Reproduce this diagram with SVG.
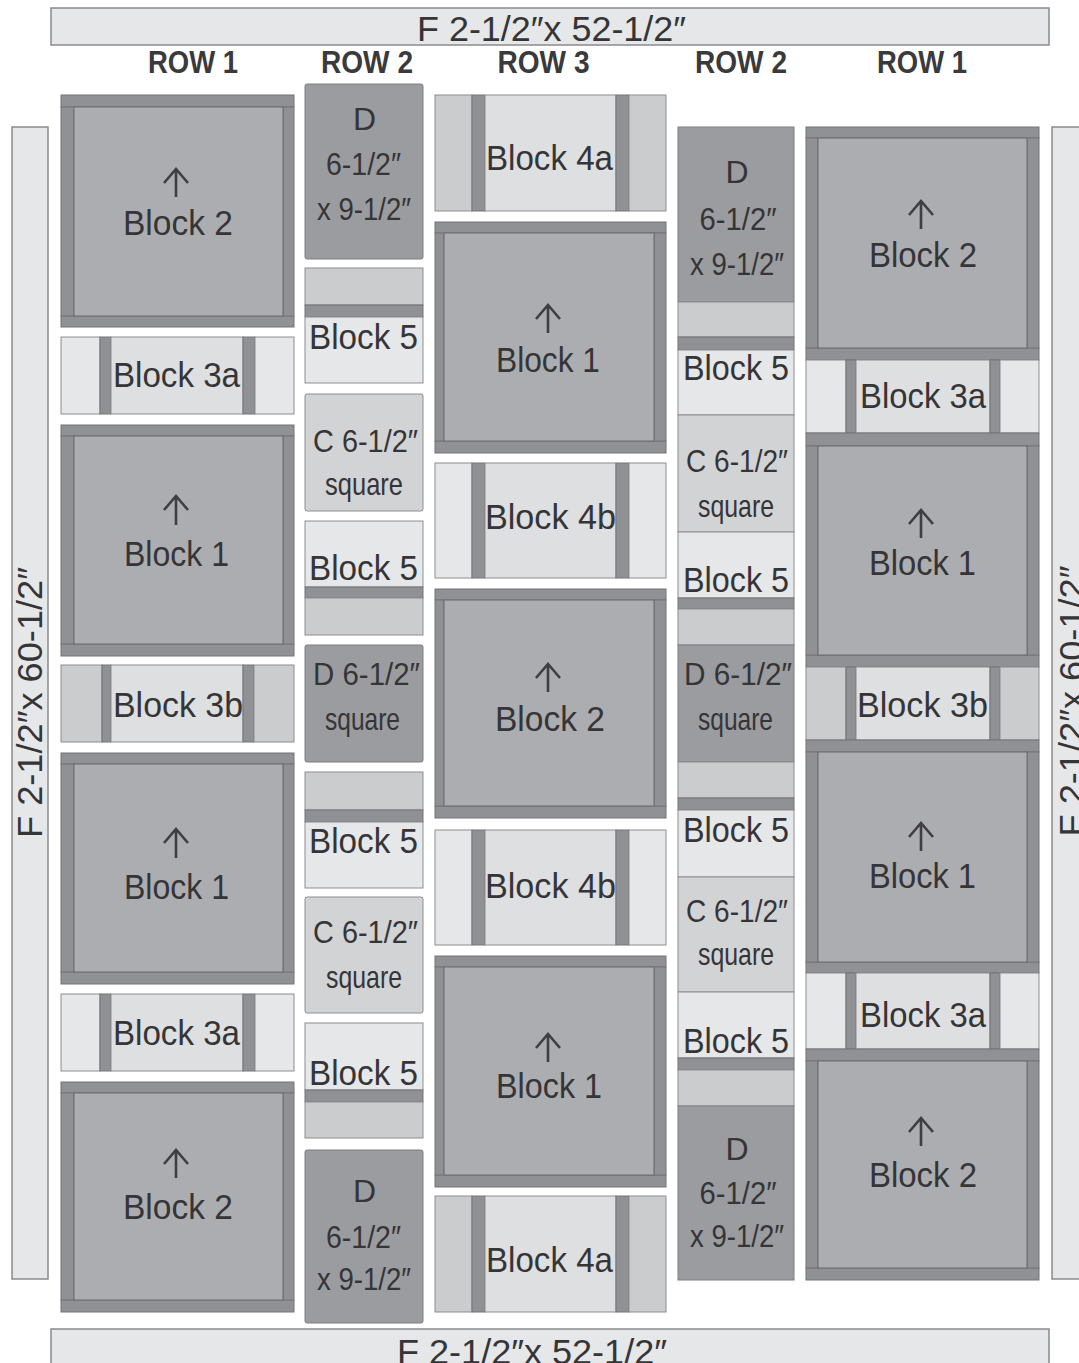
<svg xmlns="http://www.w3.org/2000/svg" width="1079" height="1363" viewBox="0 0 1079 1363">
<style>
.bd{fill:#e6e7e8;stroke:#8a8b8e;stroke-width:1.5}
.lt{fill:#e6e7e8;stroke:#8d8e91;stroke-width:1}
.lc{fill:#dedfe1;stroke:#8d8e91;stroke-width:1}
.md{fill:#cbccce;stroke:#8d8e91;stroke-width:1}
.cs{fill:#d2d3d5;stroke:#8d8e91;stroke-width:1}
.dk{fill:#9b9c9f;stroke:#7d7e81;stroke-width:1}
.st{fill:#909194;stroke:#747578;stroke-width:1}
.in{fill:#acadb0;stroke:#6a6b6e;stroke-width:1}
.t{font-family:"Liberation Sans",Arial,sans-serif;fill:#353537;font-size:35px;text-anchor:middle}
.s{font-family:"Liberation Sans",Arial,sans-serif;fill:#353537;font-size:32px;text-anchor:middle}
.r{font-family:"Liberation Sans",Arial,sans-serif;fill:#3a3a3c;font-size:32px;font-weight:bold;text-anchor:middle}
.ar{fill:none;stroke:#3f3f42;stroke-width:2.6}
</style>
<rect width="1079" height="1363" fill="#ffffff"/>

<g id="borders">
<rect class="bd" x="51" y="8" width="998" height="37"/>
<rect class="bd" x="51" y="1329" width="998" height="40"/>
<rect class="bd" x="12" y="127" width="36" height="1152"/>
<rect class="bd" x="1052" y="127" width="36" height="1152"/>
<text class="t" x="551.5" y="41" textLength="269" lengthAdjust="spacingAndGlyphs">F 2-1/2″x 52-1/2″</text>
<text class="t" x="532" y="1364" textLength="270" lengthAdjust="spacingAndGlyphs">F 2-1/2″x 52-1/2″</text>
<text class="t" x="42" y="702.5" transform="rotate(-90 42 702.5)" textLength="271" lengthAdjust="spacingAndGlyphs">F 2-1/2″x 60-1/2″</text>
<text class="t" x="1084" y="701" transform="rotate(-90 1084 701)" textLength="271" lengthAdjust="spacingAndGlyphs">F 2-1/2″x 60-1/2″</text>
</g>

<g id="row-labels">
<text class="r" x="193" y="73" textLength="90" lengthAdjust="spacingAndGlyphs">ROW 1</text>
<text class="r" x="367" y="73" textLength="92" lengthAdjust="spacingAndGlyphs">ROW 2</text>
<text class="r" x="543.5" y="73" textLength="92" lengthAdjust="spacingAndGlyphs">ROW 3</text>
<text class="r" x="741" y="73" textLength="92" lengthAdjust="spacingAndGlyphs">ROW 2</text>
<text class="r" x="922" y="73" textLength="90" lengthAdjust="spacingAndGlyphs">ROW 1</text>
</g>

<!-- Column 1 (ROW 1 left) -->
<g id="c1-block2-top">
<rect class="st" x="61" y="95" width="233" height="12"/>
<rect class="st" x="61" y="316" width="233" height="11"/>
<rect class="st" x="61" y="107" width="13" height="209"/>
<rect class="st" x="283" y="107" width="11" height="209"/>
<rect class="in" x="74" y="107" width="209" height="209"/>
<path class="ar" d="M176 197V169M164 183L176 169L188 183"/>
<text class="t" x="178" y="235" textLength="110" lengthAdjust="spacingAndGlyphs">Block 2</text>
</g>
<g id="c1-block3a-1">
<rect class="lt" x="61" y="337" width="39" height="77"/>
<rect class="st" x="100" y="337" width="11" height="77"/>
<rect class="lc" x="111" y="337" width="132" height="77"/>
<rect class="st" x="243" y="337" width="12" height="77"/>
<rect class="lt" x="255" y="337" width="39" height="77"/>
<text class="t" x="176.5" y="387" textLength="127" lengthAdjust="spacingAndGlyphs">Block 3a</text>
</g>
<g id="c1-block1-1">
<rect class="st" x="61" y="425" width="233" height="11"/>
<rect class="st" x="61" y="644" width="233" height="12"/>
<rect class="st" x="61" y="436" width="13" height="208"/>
<rect class="st" x="283" y="436" width="11" height="208"/>
<rect class="in" x="74" y="436" width="209" height="208"/>
<path class="ar" d="M176 525V496M164 510L176 496L188 510"/>
<text class="t" x="176.5" y="566" textLength="105" lengthAdjust="spacingAndGlyphs">Block 1</text>
</g>
<g id="c1-block3b">
<rect class="md" x="61" y="665" width="41" height="77"/>
<rect class="st" x="102" y="665" width="9" height="77"/>
<rect class="lc" x="111" y="665" width="132" height="77"/>
<rect class="st" x="243" y="665" width="11" height="77"/>
<rect class="md" x="254" y="665" width="40" height="77"/>
<text class="t" x="178" y="717" textLength="130" lengthAdjust="spacingAndGlyphs">Block 3b</text>
</g>
<g id="c1-block1-2">
<rect class="st" x="61" y="753" width="233" height="11"/>
<rect class="st" x="61" y="972" width="233" height="12"/>
<rect class="st" x="61" y="764" width="13" height="208"/>
<rect class="st" x="283" y="764" width="11" height="208"/>
<rect class="in" x="74" y="764" width="209" height="208"/>
<path class="ar" d="M176 858V829M164 843L176 829L188 843"/>
<text class="t" x="176.5" y="899" textLength="105" lengthAdjust="spacingAndGlyphs">Block 1</text>
</g>
<g id="c1-block3a-2">
<rect class="lt" x="61" y="994" width="39" height="77"/>
<rect class="st" x="100" y="994" width="11" height="77"/>
<rect class="lc" x="111" y="994" width="132" height="77"/>
<rect class="st" x="243" y="994" width="12" height="77"/>
<rect class="lt" x="255" y="994" width="39" height="77"/>
<text class="t" x="176.5" y="1045" textLength="127" lengthAdjust="spacingAndGlyphs">Block 3a</text>
</g>
<g id="c1-block2-bottom">
<rect class="st" x="61" y="1082" width="233" height="11"/>
<rect class="st" x="61" y="1300" width="233" height="12"/>
<rect class="st" x="61" y="1093" width="13" height="207"/>
<rect class="st" x="283" y="1093" width="11" height="207"/>
<rect class="in" x="74" y="1093" width="209" height="207"/>
<path class="ar" d="M176 1178V1150M164 1164L176 1150L188 1164"/>
<text class="t" x="178" y="1219" textLength="110" lengthAdjust="spacingAndGlyphs">Block 2</text>
</g>

<!-- Column 2 (ROW 2 left) -->
<g id="c2-D-top">
<rect class="dk" x="305" y="84" width="118" height="175" rx="2"/>
<text class="s" x="364.5" y="130">D</text>
<text class="s" x="363.5" y="175" textLength="75" lengthAdjust="spacingAndGlyphs">6-1/2″</text>
<text class="s" x="364" y="220" textLength="94" lengthAdjust="spacingAndGlyphs">x 9-1/2″</text>
</g>
<g id="c2-block5-1">
<rect class="md" x="305" y="268" width="118" height="37"/>
<rect class="st" x="305" y="305" width="118" height="12"/>
<rect class="lt" x="305" y="317" width="118" height="66"/>
<text class="t" x="363.5" y="349" textLength="109" lengthAdjust="spacingAndGlyphs">Block 5</text>
</g>
<g id="c2-C-1">
<rect class="cs" x="305" y="394" width="118" height="117" rx="2"/>
<text class="s" x="365.5" y="452" textLength="105" lengthAdjust="spacingAndGlyphs">C 6-1/2″</text>
<text class="s" x="364" y="495" textLength="78" lengthAdjust="spacingAndGlyphs">square</text>
</g>
<g id="c2-block5-2">
<rect class="lt" x="305" y="521" width="118" height="66"/>
<rect class="st" x="305" y="587" width="118" height="11"/>
<rect class="md" x="305" y="598" width="118" height="37"/>
<text class="t" x="363.5" y="580" textLength="109" lengthAdjust="spacingAndGlyphs">Block 5</text>
</g>
<g id="c2-D-square">
<rect class="dk" x="305" y="645" width="118" height="117" rx="2"/>
<text class="s" x="366.5" y="685" textLength="107" lengthAdjust="spacingAndGlyphs">D 6-1/2″</text>
<text class="s" x="362.5" y="730" textLength="75" lengthAdjust="spacingAndGlyphs">square</text>
</g>
<g id="c2-block5-3">
<rect class="md" x="305" y="772" width="118" height="38"/>
<rect class="st" x="305" y="810" width="118" height="12"/>
<rect class="lt" x="305" y="822" width="118" height="66"/>
<text class="t" x="363.5" y="853" textLength="109" lengthAdjust="spacingAndGlyphs">Block 5</text>
</g>
<g id="c2-C-2">
<rect class="cs" x="305" y="897" width="118" height="116" rx="2"/>
<text class="s" x="365.5" y="943" textLength="105" lengthAdjust="spacingAndGlyphs">C 6-1/2″</text>
<text class="s" x="364" y="988" textLength="76" lengthAdjust="spacingAndGlyphs">square</text>
</g>
<g id="c2-block5-4">
<rect class="lt" x="305" y="1023" width="118" height="67"/>
<rect class="st" x="305" y="1090" width="118" height="12"/>
<rect class="md" x="305" y="1102" width="118" height="36"/>
<text class="t" x="363.5" y="1085" textLength="109" lengthAdjust="spacingAndGlyphs">Block 5</text>
</g>
<g id="c2-D-bottom">
<rect class="dk" x="305" y="1150" width="118" height="173" rx="2"/>
<text class="s" x="364.5" y="1202">D</text>
<text class="s" x="363.5" y="1248" textLength="75" lengthAdjust="spacingAndGlyphs">6-1/2″</text>
<text class="s" x="364" y="1290" textLength="94" lengthAdjust="spacingAndGlyphs">x 9-1/2″</text>
</g>

<!-- Column 3 (ROW 3) -->
<g id="c3-block4a-top">
<rect class="md" x="435" y="95" width="37" height="116"/>
<rect class="st" x="472" y="95" width="13" height="116"/>
<rect class="lc" x="485" y="95" width="131" height="116"/>
<rect class="st" x="616" y="95" width="13" height="116"/>
<rect class="md" x="629" y="95" width="37" height="116"/>
<text class="t" x="549.5" y="170" textLength="127" lengthAdjust="spacingAndGlyphs">Block 4a</text>
</g>
<g id="c3-block1-1">
<rect class="st" x="435" y="222" width="231" height="11"/>
<rect class="st" x="435" y="441" width="231" height="12"/>
<rect class="st" x="435" y="233" width="9" height="208"/>
<rect class="st" x="654" y="233" width="12" height="208"/>
<rect class="in" x="444" y="233" width="210" height="208"/>
<path class="ar" d="M548 333V305M536 319L548 305L560 319"/>
<text class="t" x="548" y="372" textLength="104" lengthAdjust="spacingAndGlyphs">Block 1</text>
</g>
<g id="c3-block4b-1">
<rect class="lt" x="435" y="463" width="37" height="115"/>
<rect class="st" x="472" y="463" width="13" height="115"/>
<rect class="lc" x="485" y="463" width="131" height="115"/>
<rect class="st" x="616" y="463" width="13" height="115"/>
<rect class="lt" x="629" y="463" width="37" height="115"/>
<text class="t" x="550.5" y="529" textLength="131" lengthAdjust="spacingAndGlyphs">Block 4b</text>
</g>
<g id="c3-block2">
<rect class="st" x="435" y="589" width="231" height="11"/>
<rect class="st" x="435" y="806" width="231" height="12"/>
<rect class="st" x="435" y="600" width="9" height="206"/>
<rect class="st" x="654" y="600" width="12" height="206"/>
<rect class="in" x="444" y="600" width="210" height="206"/>
<path class="ar" d="M548 692V664M536 678L548 664L560 678"/>
<text class="t" x="550" y="731" textLength="110" lengthAdjust="spacingAndGlyphs">Block 2</text>
</g>
<g id="c3-block4b-2">
<rect class="lt" x="435" y="830" width="37" height="115"/>
<rect class="st" x="472" y="830" width="13" height="115"/>
<rect class="lc" x="485" y="830" width="131" height="115"/>
<rect class="st" x="616" y="830" width="13" height="115"/>
<rect class="lt" x="629" y="830" width="37" height="115"/>
<text class="t" x="550.5" y="898" textLength="131" lengthAdjust="spacingAndGlyphs">Block 4b</text>
</g>
<g id="c3-block1-2">
<rect class="st" x="435" y="956" width="231" height="11"/>
<rect class="st" x="435" y="1175" width="231" height="12"/>
<rect class="st" x="435" y="967" width="9" height="208"/>
<rect class="st" x="654" y="967" width="12" height="208"/>
<rect class="in" x="444" y="967" width="210" height="208"/>
<path class="ar" d="M548 1062V1034M536 1048L548 1034L560 1048"/>
<text class="t" x="549" y="1098" textLength="106" lengthAdjust="spacingAndGlyphs">Block 1</text>
</g>
<g id="c3-block4a-bottom">
<rect class="md" x="435" y="1196" width="37" height="116"/>
<rect class="st" x="472" y="1196" width="13" height="116"/>
<rect class="lc" x="485" y="1196" width="131" height="116"/>
<rect class="st" x="616" y="1196" width="13" height="116"/>
<rect class="md" x="629" y="1196" width="37" height="116"/>
<text class="t" x="549.5" y="1272" textLength="127" lengthAdjust="spacingAndGlyphs">Block 4a</text>
</g>

<!-- Column 4 (ROW 2 right) -->
<g id="c4-D-top">
<rect class="dk" x="678" y="127" width="116" height="175"/>
<text class="s" x="737" y="183">D</text>
<text class="s" x="738" y="230" textLength="77" lengthAdjust="spacingAndGlyphs">6-1/2″</text>
<text class="s" x="737" y="275" textLength="94" lengthAdjust="spacingAndGlyphs">x 9-1/2″</text>
</g>
<g id="c4-block5-1">
<rect class="md" x="678" y="302" width="116" height="35"/>
<rect class="st" x="678" y="337" width="116" height="13"/>
<rect class="lt" x="678" y="350" width="116" height="65"/>
<text class="t" x="736" y="380" textLength="106" lengthAdjust="spacingAndGlyphs">Block 5</text>
</g>
<g id="c4-C-1">
<rect class="cs" x="678" y="415" width="116" height="117"/>
<text class="s" x="737" y="472" textLength="102" lengthAdjust="spacingAndGlyphs">C 6-1/2″</text>
<text class="s" x="736" y="517" textLength="76" lengthAdjust="spacingAndGlyphs">square</text>
</g>
<g id="c4-block5-2">
<rect class="lt" x="678" y="532" width="116" height="66"/>
<rect class="st" x="678" y="598" width="116" height="11"/>
<rect class="md" x="678" y="609" width="116" height="36"/>
<text class="t" x="736" y="592" textLength="106" lengthAdjust="spacingAndGlyphs">Block 5</text>
</g>
<g id="c4-D-square">
<rect class="dk" x="678" y="645" width="116" height="117"/>
<text class="s" x="738" y="685" textLength="108" lengthAdjust="spacingAndGlyphs">D 6-1/2″</text>
<text class="s" x="735.5" y="730" textLength="75" lengthAdjust="spacingAndGlyphs">square</text>
</g>
<g id="c4-block5-3">
<rect class="md" x="678" y="762" width="116" height="36"/>
<rect class="st" x="678" y="798" width="116" height="12"/>
<rect class="lt" x="678" y="810" width="116" height="67"/>
<text class="t" x="736" y="842" textLength="106" lengthAdjust="spacingAndGlyphs">Block 5</text>
</g>
<g id="c4-C-2">
<rect class="cs" x="678" y="877" width="116" height="115"/>
<text class="s" x="737" y="922" textLength="102" lengthAdjust="spacingAndGlyphs">C 6-1/2″</text>
<text class="s" x="736" y="965" textLength="76" lengthAdjust="spacingAndGlyphs">square</text>
</g>
<g id="c4-block5-4">
<rect class="lt" x="678" y="992" width="116" height="66"/>
<rect class="st" x="678" y="1058" width="116" height="12"/>
<rect class="md" x="678" y="1070" width="116" height="36"/>
<text class="t" x="736" y="1053" textLength="106" lengthAdjust="spacingAndGlyphs">Block 5</text>
</g>
<g id="c4-D-bottom">
<rect class="dk" x="678" y="1106" width="116" height="174"/>
<text class="s" x="737" y="1160">D</text>
<text class="s" x="738" y="1204" textLength="77" lengthAdjust="spacingAndGlyphs">6-1/2″</text>
<text class="s" x="737" y="1247" textLength="94" lengthAdjust="spacingAndGlyphs">x 9-1/2″</text>
</g>

<!-- Column 5 (ROW 1 right) -->
<g id="c5-block2-top">
<rect class="st" x="806" y="127" width="233" height="11"/>
<rect class="st" x="806" y="348" width="233" height="12"/>
<rect class="st" x="806" y="138" width="12" height="210"/>
<rect class="st" x="1027" y="138" width="12" height="210"/>
<rect class="in" x="818" y="138" width="209" height="210"/>
<path class="ar" d="M921 229V201M909 215L921 201L933 215"/>
<text class="t" x="923" y="267" textLength="108" lengthAdjust="spacingAndGlyphs">Block 2</text>
</g>
<g id="c5-block3a-1">
<rect class="lt" x="806" y="360" width="40" height="73"/>
<rect class="st" x="846" y="360" width="10" height="73"/>
<rect class="lc" x="856" y="360" width="134" height="73"/>
<rect class="st" x="990" y="360" width="10" height="73"/>
<rect class="lt" x="1000" y="360" width="39" height="73"/>
<text class="t" x="923" y="408" textLength="126" lengthAdjust="spacingAndGlyphs">Block 3a</text>
</g>
<g id="c5-block1-1">
<rect class="st" x="806" y="433" width="233" height="13"/>
<rect class="st" x="806" y="655" width="233" height="12"/>
<rect class="st" x="806" y="446" width="12" height="209"/>
<rect class="st" x="1027" y="446" width="12" height="209"/>
<rect class="in" x="818" y="446" width="209" height="209"/>
<path class="ar" d="M921 538V510M909 524L921 510L933 524"/>
<text class="t" x="922.5" y="575" textLength="107" lengthAdjust="spacingAndGlyphs">Block 1</text>
</g>
<g id="c5-block3b">
<rect class="md" x="806" y="667" width="40" height="73"/>
<rect class="st" x="846" y="667" width="10" height="73"/>
<rect class="lc" x="856" y="667" width="134" height="73"/>
<rect class="st" x="990" y="667" width="10" height="73"/>
<rect class="md" x="1000" y="667" width="39" height="73"/>
<text class="t" x="922.5" y="717" textLength="131" lengthAdjust="spacingAndGlyphs">Block 3b</text>
</g>
<g id="c5-block1-2">
<rect class="st" x="806" y="740" width="233" height="12"/>
<rect class="st" x="806" y="962" width="233" height="11"/>
<rect class="st" x="806" y="752" width="12" height="210"/>
<rect class="st" x="1027" y="752" width="12" height="210"/>
<rect class="in" x="818" y="752" width="209" height="210"/>
<path class="ar" d="M921 851V823M909 837L921 823L933 837"/>
<text class="t" x="922.5" y="888" textLength="107" lengthAdjust="spacingAndGlyphs">Block 1</text>
</g>
<g id="c5-block3a-2">
<rect class="lt" x="806" y="973" width="40" height="76"/>
<rect class="st" x="846" y="973" width="10" height="76"/>
<rect class="lc" x="856" y="973" width="134" height="76"/>
<rect class="st" x="990" y="973" width="10" height="76"/>
<rect class="lt" x="1000" y="973" width="39" height="76"/>
<text class="t" x="923" y="1027" textLength="126" lengthAdjust="spacingAndGlyphs">Block 3a</text>
</g>
<g id="c5-block2-bottom">
<rect class="st" x="806" y="1049" width="233" height="12"/>
<rect class="st" x="806" y="1268" width="233" height="12"/>
<rect class="st" x="806" y="1061" width="12" height="207"/>
<rect class="st" x="1027" y="1061" width="12" height="207"/>
<rect class="in" x="818" y="1061" width="209" height="207"/>
<path class="ar" d="M921 1146V1118M909 1132L921 1118L933 1132"/>
<text class="t" x="923" y="1187" textLength="108" lengthAdjust="spacingAndGlyphs">Block 2</text>
</g>

<g id="connectors"></g>
</svg>
